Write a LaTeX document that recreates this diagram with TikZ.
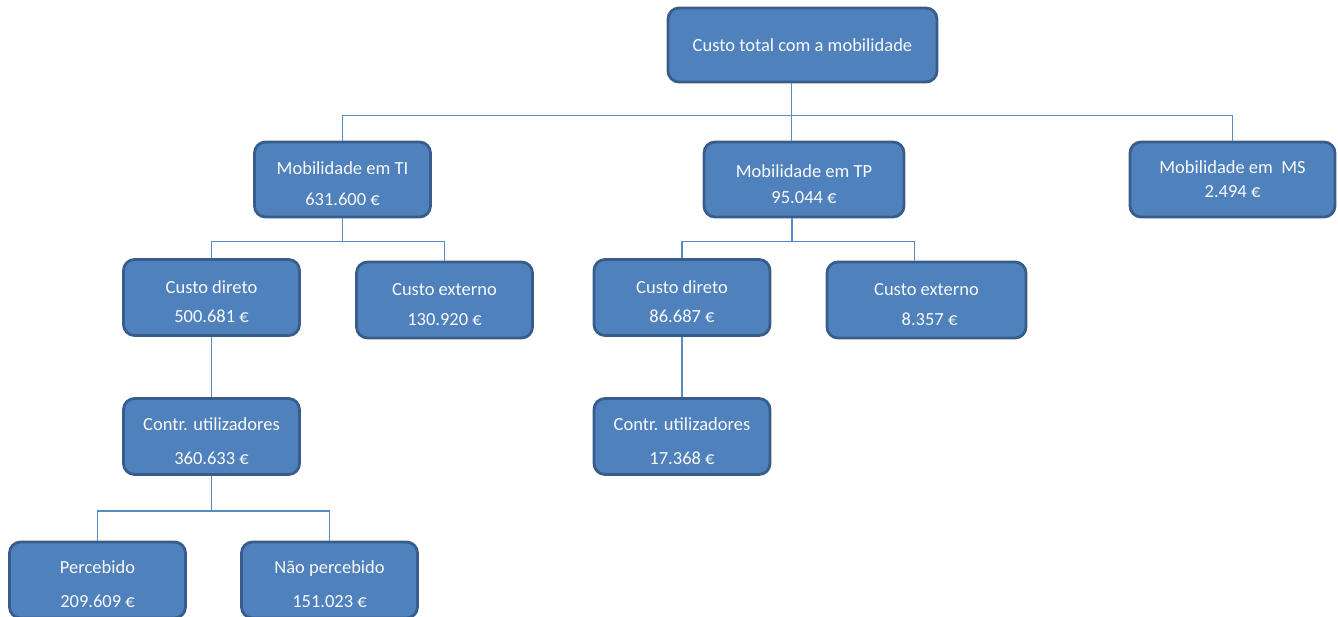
\documentclass[tikz,border=0pt]{standalone}
\usepackage{fontspec}
\setmainfont{Carlito}
\usepackage{tikz}
\usetikzlibrary{positioning}
\definecolor{boxfill}{RGB}{79,129,189}
\definecolor{boxline}{RGB}{56,93,138}
\definecolor{linkline}{RGB}{88,138,196}
\definecolor{boxtext}{RGB}{250,250,250}
\newcommand{\lowstrut}{\rule{0pt}{22pt}}
\tikzset{
  org/.style={rectangle, rounded corners=11pt, draw=boxline, line width=2.8pt, fill=boxfill,
              minimum width=176pt, minimum height=76pt, align=center, text=boxtext,
              font=\fontsize{18.5}{22}\selectfont, inner sep=2pt},
  lnk/.style={draw=linkline, line width=1.4pt},
}

\begin{document}
\begin{tikzpicture}[x=1pt,y=1pt]
\clip (0,0) rectangle (1338,-616);

% Topo
\node[org, minimum width=269pt, minimum height=74pt] (root) at (802.5,-45) {Custo total com a mobilidade};

% Nivel 1
\node[org, minimum height=75pt] (ti) at (342.5,-179.5) {\lowstrut Mobilidade em TI\\[9pt]631.600 €};
\node[org, minimum width=200pt, minimum height=75pt] (tp) at (804,-179.5) {\lowstrut Mobilidade em TP\\[4pt]95.044 €};
\node[org, minimum width=205pt, minimum height=75pt] (ms) at (1232.5,-179.5) {Mobilidade em \ MS\\[2pt]2.494 €};

% Nivel 2
\node[org] (tid) at (211.5,-297.5) {\lowstrut Custo direto\\[7pt]500.681 €};
\node[org] (tie) at (444.5,-300) {\lowstrut Custo externo\\[8pt]130.920 €};
\node[org] (tpd) at (682,-297.5) {\lowstrut Custo direto\\[7pt]86.687 €};
\node[org, minimum width=199pt] (tpe) at (926.5,-300) {\lowstrut Custo externo\\[8pt]\hspace*{6pt}8.357 €};

% Nivel 3
\node[org] (tic) at (211.5,-436.5) {\lowstrut Contr. utilizadores\\[12pt]360.633 €};
\node[org] (tpc) at (682,-436.5) {\lowstrut Contr. utilizadores\\[12pt]17.368 €};

% Nivel 4
\node[org] (per) at (97.5,-580) {\lowstrut Percebido\\[12pt]209.609 €};
\node[org] (nper) at (329.5,-580) {\lowstrut Não percebido\\[12pt]151.023 €};

% Ligacoes
\draw[lnk] ([xshift=-11pt]root.south) -- ++(0,-32) coordinate (rj);
\draw[lnk] (rj) -| (ti.north);
\draw[lnk] (rj) -| (ms.north);
\draw[lnk] (rj) -- (rj |- tp.north);

\draw[lnk] (ti.south) -- ++(0,-23) coordinate (tij);
\draw[lnk] (tij) -| (tid.north);
\draw[lnk] (tij) -| (tie.north);

\draw[lnk] ([xshift=-12pt]tp.south) -- ++(0,-23) coordinate (tpj);
\draw[lnk] (tpj) -| (tpd.north);
\draw[lnk] (tpj) -| ([xshift=-12pt]tpe.north);

\draw[lnk] (tid.south) -- (tic.north);
\draw[lnk] (tpd.south) -- (tpc.north);

\draw[lnk] (tic.south) -- ++(0,-35) coordinate (ticj);
\draw[lnk] (ticj) -| (per.north);
\draw[lnk] (ticj) -| (nper.north);

\end{tikzpicture}
\end{document}
